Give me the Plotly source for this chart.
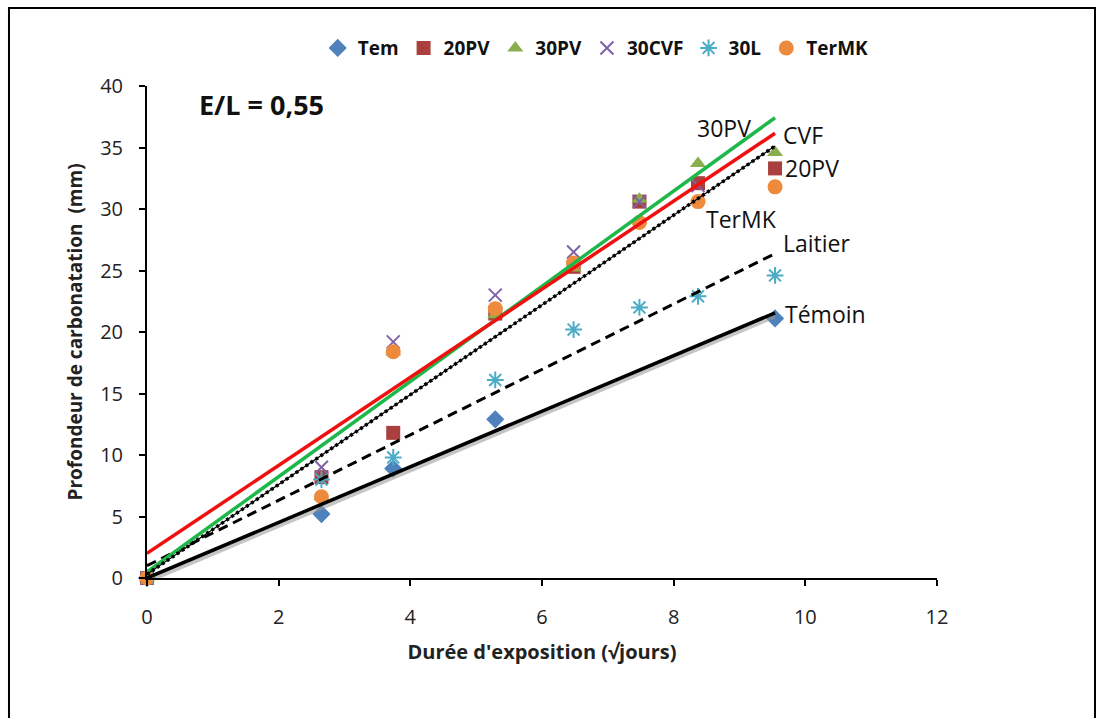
import plotly.graph_objects as go

# Exposure time (square root of days) and carbonation depth (mm) per mix
duree = [0, 2.65, 3.74, 5.29, 6.48, 7.48, 8.37, 9.54]

tem = [0, 5.2, 8.9, 12.9, None, None, None, 21.1]
pv20 = [0, 8.2, 11.8, 21.5, 25.3, 30.6, 32.1, 33.3]
pv30 = [0, 6.6, 18.4, 21.4, 25.2, 30.8, 33.7, 34.6]
cvf30 = [0, 9.0, 19.2, 23.0, 26.5, 30.6, 31.9, None]
l30 = [0, 8.0, 9.8, 16.1, 20.2, 22.0, 22.9, 24.6]
termk = [0, 6.6, 18.4, 21.9, 25.6, 28.9, 30.6, 31.8]

series_names = ["Tem", "20PV", "30PV", "30CVF", "30L", "TerMK"]
series_values = [tem, pv20, pv30, cvf30, l30, termk]

# Linear trend lines: (label, slope, intercept)
trend_names = ["Témoin", "Laitier", "30PV", "CVF", "20PV"]
trend_slopes = [2.26, 2.66, 3.87, 3.58, 3.65]
trend_intercepts = [0.0, 1.0, 0.5, 2.0, 0.3]
trend_end = 9.54

# Curve labels placed at the end of the trend lines (x, y)
label_texts = ["30PV", "CVF", "20PV", "TerMK", "Laitier", "Témoin"]
label_x = [8.32, 9.63, 9.66, 8.46, 9.63, 9.66]
label_y = [36.6, 36.0, 33.3, 29.2, 27.2, 21.5]

x_ticks = [0, 2, 4, 6, 8, 10, 12]
y_ticks = [0, 5, 10, 15, 20, 25, 30, 35, 40]

marker_styles = [
    dict(symbol="diamond", color="#4F81BD", size=14),
    dict(symbol="square", color="#A9403E", size=14),
    dict(symbol="triangle-up", color="#8AAE4E", size=14),
    dict(symbol="x-thin-open", color="#7E62A8", size=13, line=dict(width=2, color="#7E62A8")),
    dict(symbol="asterisk-open", color="#4BACC6", size=14, line=dict(width=2, color="#4BACC6")),
    dict(symbol="circle", color="#EE8A3C", size=15),
]

FONT = "Open Sans"

fig = go.Figure()

for name, vals, mk in zip(series_names, series_values, marker_styles):
    fig.add_trace(go.Scatter(
        x=duree, y=vals, mode="markers", name=name,
        marker=mk, cliponaxis=False, showlegend=True,
    ))

line_styles = {
    "Témoin": dict(color="black", width=3.5),
    "Laitier": dict(color="black", width=3, dash="10px,6px"),
    "30PV": dict(color="#1EB84A", width=3.5),
    "CVF": dict(color="#F01010", width=3.5),
    "20PV": dict(color="black", width=1.2),
}

xs = [0, trend_end]
for name, a, b in zip(trend_names, trend_slopes, trend_intercepts):
    ys = [a * x + b for x in xs]
    if name == "Témoin":
        # soft shadow under the reference line
        fig.add_trace(go.Scatter(
            x=xs, y=[v - 0.25 for v in ys], mode="lines",
            line=dict(color="rgba(150,150,150,0.55)", width=5),
            showlegend=False, hoverinfo="skip", cliponaxis=False,
        ))
    if name == "20PV":
        # beaded dotted line
        fig.add_trace(go.Scatter(
            x=xs, y=ys, mode="lines",
            line=dict(color="black", width=3.5, dash="3px,3px"),
            showlegend=False, hoverinfo="skip", cliponaxis=False,
        ))
    fig.add_trace(go.Scatter(
        x=xs, y=ys, mode="lines", line=line_styles[name],
        showlegend=False, hoverinfo="skip", cliponaxis=False,
    ))

for t, x, y in zip(label_texts, label_x, label_y):
    fig.add_annotation(x=x, y=y, text=t, showarrow=False, xanchor="left",
                       yanchor="middle", font=dict(family=FONT, size=23, color="#111"))

fig.add_annotation(x=0.76, y=38.5, text="<b>E/L = 0,55</b>", showarrow=False,
                   xanchor="left", yanchor="middle",
                   font=dict(family=FONT, size=27, color="#111"))

# outer frame
fig.add_shape(type="rect", xref="paper", yref="paper",
              x0=-0.1747, x1=1.2, y0=-0.45, y1=1.1585,
              line=dict(color="black", width=2), fillcolor="rgba(0,0,0,0)")

fig.update_xaxes(
    range=[0, 12], tickvals=x_ticks, ticks="outside", ticklen=6, tickwidth=2,
    tickcolor="black", showline=True, linecolor="black", linewidth=2,
    showgrid=False, zeroline=False, ticklabelstandoff=14,
    tickfont=dict(family=FONT, size=20, color="#222"),
    title=dict(text="<b>Durée d'exposition (√jours)</b>",
               font=dict(family=FONT, size=20, color="#222"), standoff=16),
)
fig.update_yaxes(
    range=[0, 40], tickvals=y_ticks, ticks="outside", ticklen=6, tickwidth=2,
    tickcolor="black", showline=True, linecolor="black", linewidth=2,
    showgrid=False, zeroline=False, ticklabelstandoff=12,
    tickfont=dict(family=FONT, size=20, color="#222"),
    title=dict(text="<b>Profondeur de carbonatation  (mm)</b>",
               font=dict(family=FONT, size=19, color="#222"), standoff=12),
)

fig.update_layout(
    width=1104, height=718,
    margin=dict(l=147, r=167, t=86, b=140),
    paper_bgcolor="white", plot_bgcolor="white",
    legend=dict(orientation="h", x=0.568, xanchor="center", y=1.077,
                yanchor="middle", font=dict(family=FONT, size=19, color="#111", weight="bold"),
                itemwidth=30, tracegroupgap=0, bgcolor="rgba(0,0,0,0)"),
    showlegend=True,
)

fig.write_html("out.html")
